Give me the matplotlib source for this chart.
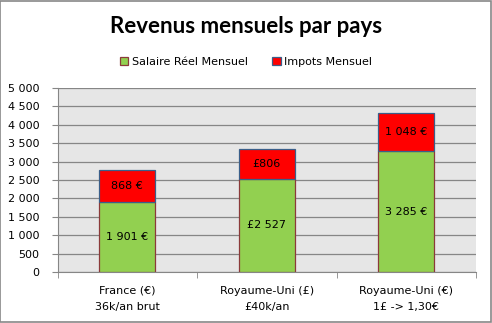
import numpy as np
import matplotlib
matplotlib.use("Agg")
from matplotlib import pyplot as plt
from matplotlib.patches import Rectangle

# Données
categories = ["France (€)\n36k/an brut", "Royaume-Uni (£)\n£40k/an", "Royaume-Uni (€)\n1£ -> 1,30€"]
salaire = [1901, 2527, 3285]
impots = [868, 806, 1048]
salaire_labels = ["1 901 €", "£2 527", "3 285 €"]
impots_labels = ["868 €", "£806", "1 048 €"]
y_ticks = [0, 500, 1000, 1500, 2000, 2500, 3000, 3500, 4000, 4500, 5000]

green = "#92D050"
red = "#FF0000"

fig = plt.figure(figsize=(4.92, 3.23), dpi=100)
ax = fig.add_axes([0.117, 0.158, 0.8505, 0.5696])
ax.set_facecolor("#E6E6E6")

x = np.arange(len(categories))
w = 0.4
ax.bar(x, salaire, width=w, color=green, edgecolor="#8B3A3A", linewidth=0.9,
       label="Salaire Réel Mensuel", zorder=3)
ax.bar(x, impots, width=w, bottom=salaire, color=red, edgecolor="#3A5F8A",
       linewidth=0.9, label="Impots Mensuel", zorder=3)

# Étiquettes au centre des segments
for i in range(len(categories)):
    ax.text(x[i], salaire[i] / 2, salaire_labels[i], ha="center", va="center",
            fontsize=8, zorder=4)
    ax.text(x[i], salaire[i] + impots[i] / 2, impots_labels[i], ha="center",
            va="center", fontsize=8, zorder=4)

ax.set_xlim(-0.5, len(categories) - 0.5)
ax.set_ylim(0, 5000)
ax.set_yticks(y_ticks)
ax.set_yticklabels([f"{v:,}".replace(",", " ") for v in y_ticks], fontsize=8)
ax.yaxis.grid(True, color="#868686", linewidth=0.9, zorder=0)

ax.set_xticks(x)
ax.set_xticklabels(categories, fontsize=8, linespacing=1.8)
ax.set_xticks(np.arange(-0.5, len(categories)), minor=True)
ax.tick_params(axis="x", which="major", length=0, pad=10)
ax.tick_params(axis="x", which="minor", length=4, color="#868686")
ax.tick_params(axis="y", length=4, color="#868686", pad=9)

for s in ["top", "right"]:
    ax.spines[s].set_visible(False)
for s in ["left", "bottom"]:
    ax.spines[s].set_color("#868686")

fig.text(0.5, 0.918, "Revenus mensuels par pays", ha="center", va="center",
         fontsize=16, fontweight="bold", family="Lato")
fig.legend(loc="center", bbox_to_anchor=(0.5, 0.808), ncol=2, frameon=False,
           fontsize=8, handlelength=0.8, handleheight=0.8, handletextpad=0.3,
           columnspacing=2.2)

# Bordure du graphique
fig.patches.append(Rectangle((0.001, 0.002), 0.997, 0.995, transform=fig.transFigure,
                             fill=False, edgecolor="#888888", linewidth=1.2))

fig.savefig("out.png", dpi=100)
